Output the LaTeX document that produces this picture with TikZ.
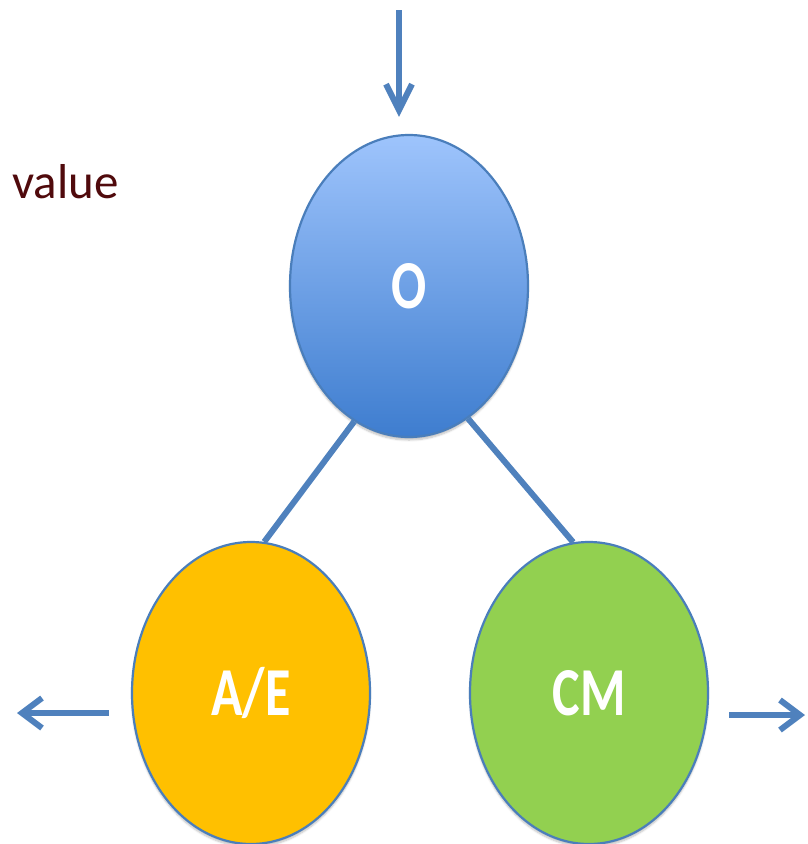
\documentclass[tikz,border=0pt]{standalone}
\usepackage{fontspec}
\setmainfont{Carlito}
\usetikzlibrary{shapes.geometric,arrows.meta,shadows.blur}
\definecolor{edgeblue}{RGB}{74,126,187}
\definecolor{lineblue}{RGB}{79,129,189}
\definecolor{otop}{RGB}{158,196,252}
\definecolor{obot}{RGB}{62,125,207}
\definecolor{aefill}{RGB}{255,192,0}
\definecolor{cmfill}{RGB}{146,208,80}
\definecolor{valuecol}{RGB}{80,10,12}
\tikzset{
  bubble/.style={ellipse, draw=edgeblue, line width=2.2pt, inner sep=0pt,
    minimum width=238pt, minimum height=302pt, text=white,
    font=\fontsize{52}{52}\selectfont\bfseries,
    blur shadow={shadow xshift=0pt, shadow yshift=-3pt, shadow blur steps=6, shadow opacity=25}},
  link/.style={draw=lineblue, line width=6pt},
  arr/.style={draw=lineblue, line width=6pt, -{Straight Barb[length=20pt,width=30pt]}},
  arrtop/.style={draw=lineblue, line width=6pt, -{Straight Barb[length=26pt,width=26pt]}},
}
\newcommand{\tall}[1]{\scalebox{1}[1.32]{#1}}
\begin{document}
\begin{tikzpicture}[x=1pt,y=-1pt]
\useasboundingbox (0,0) rectangle (808,844);
\node[bubble, top color=otop, bottom color=obot] (o) at (409,286) {\tall{O}};
\node[bubble, fill=aefill] (ae) at (251,693) {\tall{A/E}};
\node[bubble, fill=cmfill] (cm) at (589,693) {\tall{CM}};
\node[anchor=base west, text=valuecol, font=\fontsize{49}{49}\selectfont, inner sep=0pt] (val) at (12,198) {value};
\draw[link] (o.248) -- (ae.85);
\draw[link] (o.294) -- (cm.96);
\coordinate (in) at (399,10);
\draw[arrtop, shorten >=17pt] (in) -- (in |- o.north);
\coordinate (outl) at (17,713);
\draw[arr, shorten <=22pt] ([yshift=-20pt]ae.west) -- (outl);
\coordinate (outr) at (805,715);
\draw[arr, shorten <=20pt] ([yshift=-22pt]cm.east) -- (outr);
\end{tikzpicture}
\end{document}
